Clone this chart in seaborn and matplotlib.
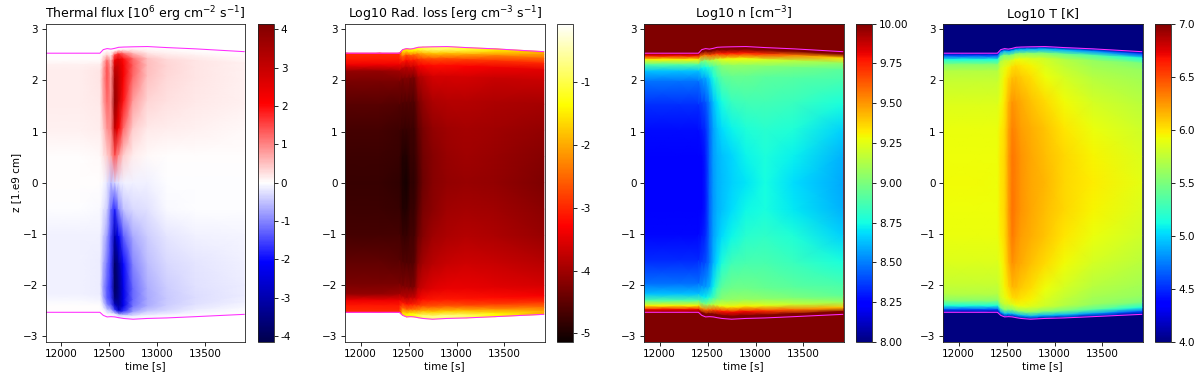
import numpy as np
import matplotlib
matplotlib.use("Agg")
import matplotlib.pyplot as plt
import seaborn as sns

time_nodes = [11840, 12200, 12405, 12440, 12480, 12520, 12560, 12600, 12650, 12750, 12900, 13100, 13400, 13910]
upper_edge = [2.53, 2.53, 2.53, 2.60, 2.62, 2.61, 2.625, 2.645, 2.65, 2.655, 2.66, 2.64, 2.615, 2.56]
lower_edge = [-2.53, -2.53, -2.53, -2.59, -2.62, -2.615, -2.62, -2.635, -2.65, -2.665, -2.65, -2.64, -2.615, -2.57]
loop_frac = [1, .98, .95, .91, .86, .78, .6, .4, .2, 0, -.2, -.4, -.6, -.78, -.86, -.91, -.95, -.98, -1]

flux = [
 [0,0,0,0,0,0,0,0,0,0,0,0,0,0],
 [0,0,0,0,.05,.05,.1,.1,.1,.1,.05,.05,.03,.02],
 [0,0,0,.2,.4,.2,1.5,1.7,1.2,.6,.2,.15,.1,.05],
 [.12,.12,.15,.5,1.2,.6,2.4,2.5,2.0,1.2,.5,.3,.2,.1],
 [.16,.16,.2,.7,1.4,.8,3.0,2.8,2.2,1.3,.55,.35,.22,.12],
 [.16,.16,.2,.8,1.4,.9,3.5,3.0,2.2,1.2,.5,.32,.2,.12],
 [.13,.13,.18,.7,1.2,1.0,3.8,3.0,1.9,.8,.35,.25,.17,.1],
 [.1,.1,.13,.4,.9,1.0,3.0,2.2,1.2,.4,.18,.15,.1,.06],
 [.03,.03,.05,.2,.4,.7,1.4,.9,.4,.15,.05,.03,.02,.02],
 [0,0,0,-.05,-.2,-.5,-.3,-.2,-.1,-.1,-.1,-.02,-.01,-.01],
 [-.03,-.03,-.04,-.2,-.4,-1.2,-1.8,-1.0,-.5,-.3,-.25,-.05,-.03,-.02],
 [-.1,-.1,-.12,-.4,-.8,-1.5,-3.0,-2.2,-1.3,-.7,-.4,-.2,-.1,-.07],
 [-.12,-.12,-.13,-.6,-1.1,-1.6,-3.8,-3.2,-2.0,-1.0,-.55,-.32,-.2,-.12],
 [-.12,-.12,-.15,-.8,-1.3,-1.7,-3.9,-3.4,-2.3,-1.2,-.65,-.4,-.25,-.15],
 [-.12,-.12,-.15,-.7,-1.3,-1.6,-3.6,-3.3,-2.3,-1.2,-.7,-.45,-.28,-.15],
 [-.05,-.05,-.08,-.4,-1.0,-1.4,-2.8,-3.2,-2.3,-1.1,-.65,-.42,-.25,-.1],
 [0,0,0,-.1,-.4,-.7,-1.6,-2.6,-1.6,-.7,-.4,-.3,-.15,-.05],
 [0,0,0,0,-.05,-.1,-.2,-.5,-.3,-.15,-.1,-.08,-.04,-.02],
 [0,0,0,0,0,0,0,0,0,0,0,0,0,0],
]

rad_loss = [
 [-3.0,-3.0,-3.0,-1.5,-1.5,-1.4,-1.2,-1.1,-1.0,-.9,-.9,-1.1,-1.5,-2.0],
 [-3.0,-3.0,-3.0,-1.7,-1.6,-1.5,-1.4,-1.2,-1.0,-.8,-.8,-1.1,-1.6,-2.1],
 [-3.1,-3.1,-3.1,-2.5,-2.7,-2.6,-2.5,-2.2,-2.0,-1.8,-1.8,-2.0,-2.3,-2.5],
 [-3.4,-3.4,-3.4,-3.1,-3.2,-3.1,-3.1,-2.9,-2.8,-2.7,-2.7,-2.8,-2.9,-3.0],
 [-4.1,-4.1,-4.0,-3.8,-3.8,-3.7,-3.7,-3.4,-3.3,-3.2,-3.2,-3.3,-3.4,-3.5],
 [-4.3,-4.3,-4.3,-4.3,-4.2,-4.3,-4.3,-3.9,-3.8,-3.6,-3.6,-3.6,-3.7,-3.7],
 [-4.55,-4.55,-4.6,-4.6,-4.6,-4.6,-4.6,-4.3,-4.1,-3.9,-3.85,-3.85,-3.9,-3.95],
 [-4.7,-4.7,-4.75,-4.8,-4.8,-4.75,-4.75,-4.5,-4.3,-4.1,-4.0,-3.95,-4.0,-4.1],
 [-4.75,-4.75,-4.8,-4.95,-4.95,-4.8,-4.8,-4.6,-4.35,-4.2,-4.05,-4.0,-4.05,-4.2],
 [-4.8,-4.8,-4.85,-5.0,-5.05,-4.85,-4.85,-4.65,-4.4,-4.2,-4.1,-4.05,-4.1,-4.25],
 [-4.75,-4.75,-4.8,-4.95,-4.95,-4.8,-4.8,-4.55,-4.3,-4.15,-4.0,-3.95,-4.0,-4.15],
 [-4.7,-4.7,-4.7,-4.8,-4.8,-4.7,-4.7,-4.4,-4.2,-4.0,-3.9,-3.85,-3.9,-4.05],
 [-4.5,-4.5,-4.55,-4.6,-4.6,-4.6,-4.55,-4.15,-3.95,-3.8,-3.7,-3.65,-3.7,-3.85],
 [-4.3,-4.3,-4.3,-4.3,-4.2,-4.3,-4.25,-3.8,-3.65,-3.5,-3.45,-3.45,-3.5,-3.6],
 [-4.1,-4.1,-4.0,-3.8,-3.8,-3.7,-3.7,-3.4,-3.2,-3.1,-3.1,-3.15,-3.2,-3.35],
 [-3.4,-3.4,-3.4,-3.1,-3.1,-3.1,-3.0,-2.9,-2.7,-2.6,-2.6,-2.7,-2.8,-2.9],
 [-3.1,-3.1,-3.1,-2.4,-2.4,-2.4,-2.3,-2.1,-1.8,-1.7,-1.7,-1.8,-2.1,-2.4],
 [-3.0,-3.0,-3.0,-1.7,-1.5,-1.4,-1.3,-1.1,-.8,-.7,-.7,-.9,-1.4,-2.0],
 [-3.0,-3.0,-3.0,-1.6,-1.4,-1.3,-1.2,-1.0,-.8,-.7,-.7,-.8,-1.3,-2.0],
]

density = [
 [10.3,10.3,10.3,10.3,10.3,10.3,10.3,10.3,10.3,10.3,10.3,10.3,10.3,10.3],
 [9.8,9.8,9.8,10.1,10.2,10.2,10.2,10.3,10.3,10.3,10.3,10.3,10.3,10.0],
 [9.3,9.3,9.3,9.55,9.6,9.6,9.65,9.7,9.75,9.75,9.75,9.7,9.55,9.35],
 [8.9,8.9,8.9,9.0,9.05,9.1,9.15,9.2,9.25,9.28,9.28,9.22,9.15,9.05],
 [8.63,8.63,8.63,8.72,8.75,8.8,8.88,8.96,9.02,9.05,9.05,9.02,8.98,8.92],
 [8.47,8.47,8.47,8.55,8.58,8.65,8.76,8.85,8.92,8.95,8.95,8.92,8.9,8.87],
 [8.34,8.34,8.34,8.38,8.42,8.5,8.62,8.7,8.76,8.84,8.86,8.86,8.84,8.76],
 [8.27,8.27,8.27,8.3,8.34,8.46,8.57,8.63,8.68,8.73,8.78,8.8,8.78,8.66],
 [8.23,8.23,8.23,8.25,8.31,8.45,8.56,8.6,8.63,8.67,8.73,8.77,8.72,8.6],
 [8.22,8.22,8.22,8.24,8.3,8.45,8.55,8.6,8.62,8.66,8.7,8.75,8.68,8.58],
 [8.22,8.22,8.22,8.24,8.3,8.45,8.55,8.6,8.63,8.68,8.74,8.76,8.71,8.6],
 [8.26,8.26,8.26,8.29,8.33,8.46,8.57,8.62,8.68,8.74,8.8,8.82,8.78,8.66],
 [8.33,8.33,8.33,8.37,8.4,8.48,8.6,8.68,8.78,8.86,8.88,8.88,8.84,8.76],
 [8.47,8.47,8.47,8.53,8.56,8.6,8.72,8.84,8.93,8.97,8.97,8.95,8.92,8.88],
 [8.63,8.63,8.63,8.7,8.73,8.78,8.86,8.96,9.03,9.06,9.06,9.04,9.0,8.93],
 [8.9,8.9,8.9,9.0,9.05,9.1,9.15,9.22,9.27,9.3,9.3,9.25,9.18,9.08],
 [9.3,9.3,9.3,9.5,9.6,9.6,9.65,9.72,9.78,9.8,9.8,9.72,9.6,9.4],
 [9.8,9.8,9.8,10.1,10.2,10.2,10.2,10.3,10.3,10.3,10.3,10.3,10.3,10.1],
 [10.3,10.3,10.3,10.3,10.3,10.3,10.3,10.3,10.3,10.3,10.3,10.3,10.3,10.3],
]

temperature = [
 [4.1,4.1,4.1,4.1,4.1,4.1,4.1,4.1,4.1,4.1,4.1,4.1,4.1,4.1],
 [4.6,4.6,4.6,4.8,4.9,4.9,4.9,4.9,4.9,4.9,4.9,4.9,4.8,4.6],
 [5.15,5.15,5.15,5.4,5.5,5.5,5.5,5.55,5.55,5.55,5.5,5.45,5.35,5.15],
 [5.55,5.55,5.55,5.7,5.75,5.8,5.85,5.9,5.9,5.85,5.8,5.7,5.6,5.5],
 [5.7,5.7,5.7,5.82,5.88,5.95,6.02,6.03,6.0,5.95,5.85,5.75,5.65,5.6],
 [5.78,5.78,5.78,5.85,5.95,6.05,6.12,6.12,6.08,6.02,5.92,5.82,5.72,5.65],
 [5.86,5.86,5.86,5.92,6.0,6.15,6.25,6.22,6.18,6.12,6.03,5.93,5.82,5.73],
 [5.9,5.9,5.9,5.97,6.03,6.2,6.32,6.28,6.22,6.17,6.1,6.0,5.9,5.8],
 [5.92,5.92,5.92,6.0,6.05,6.22,6.35,6.31,6.25,6.2,6.13,6.04,5.95,5.85],
 [5.93,5.93,5.92,6.0,6.05,6.22,6.35,6.32,6.25,6.2,6.15,6.05,5.97,5.88],
 [5.92,5.92,5.92,6.0,6.05,6.22,6.36,6.32,6.25,6.2,6.13,6.04,5.95,5.85],
 [5.9,5.9,5.9,5.97,6.03,6.2,6.34,6.28,6.22,6.17,6.1,6.0,5.9,5.8],
 [5.86,5.86,5.86,5.92,6.0,6.15,6.27,6.22,6.18,6.12,6.03,5.93,5.82,5.73],
 [5.78,5.78,5.78,5.85,5.95,6.05,6.14,6.13,6.08,6.02,5.92,5.82,5.72,5.65],
 [5.7,5.7,5.7,5.82,5.88,5.95,6.02,6.03,6.0,5.95,5.85,5.75,5.65,5.6],
 [5.55,5.55,5.55,5.7,5.75,5.8,5.85,5.9,5.9,5.85,5.8,5.7,5.6,5.5],
 [5.15,5.15,5.15,5.4,5.5,5.5,5.5,5.55,5.55,5.55,5.5,5.45,5.35,5.15],
 [4.6,4.6,4.6,4.8,4.9,4.9,4.9,4.9,4.9,4.9,4.9,4.9,4.8,4.6],
 [4.1,4.1,4.1,4.1,4.1,4.1,4.1,4.1,4.1,4.1,4.1,4.1,4.1,4.1],
]

titles = [r"Thermal flux [$10^6$ erg cm$^{-2}$ s$^{-1}$]",
          r"Log10 Rad. loss [erg cm$^{-3}$ s$^{-1}$]",
          r"Log10 n [cm$^{-3}$]",
          "Log10 T [K]"]
tables = [flux, rad_loss, density, temperature]
cmaps = ["seismic", "hot", "jet", "jet"]
limits = [(-4.15, 4.15), (-5.14, -0.06), (8, 10), (4, 7)]
outside = ["white", "white", "#800000", "#000080"]
cbar_ticks = [list(range(-4, 5)), [-5, -4, -3, -2, -1],
              [8, 8.25, 8.5, 8.75, 9, 9.25, 9.5, 9.75, 10],
              [4, 4.5, 5, 5.5, 6, 6.5, 7]]
cbar_fmt = ["%d", "%d", "%.2f", "%.1f"]
x_ticks = [12000, 12500, 13000, 13500]
z_ticks = [-3, -2, -1, 0, 1, 2, 3]

sns.set_style("ticks", {"text.color": "black", "axes.labelcolor": "black",
                        "xtick.color": "black", "ytick.color": "black",
                        "axes.edgecolor": "#222222", "xtick.direction": "out",
                        "ytick.direction": "out"})
plt.rcParams["font.family"] = ["DejaVu Sans"]
plt.rcParams["mathtext.fontset"] = "dejavusans"

W, H = 1200, 382
fig = plt.figure(figsize=(16, H / 75), dpi=75)
ax_left = [45.5, 345, 644, 943]
ax_w = 199.5
cb_off = 212
cb_w = 16
y_top, y_bot = 23.5, 342

t = np.array(time_nodes, float)
up = np.array(upper_edge)
lo = np.array(lower_edge)
frac = np.array(loop_frac, float)
Y = np.array([[f * (u if f >= 0 else -l) for u, l in zip(up, lo)] for f in frac])
X = np.tile(t, (len(frac), 1))

for i in range(4):
    ax = fig.add_axes([ax_left[i] / W, 1 - y_bot / H, ax_w / W, (y_bot - y_top) / H])
    ax.set_facecolor(outside[i])
    m = ax.pcolormesh(X, Y, np.array(tables[i]), cmap=cmaps[i], vmin=limits[i][0],
                      vmax=limits[i][1], shading="gouraud", rasterized=True)
    sns.lineplot(x=time_nodes, y=upper_edge, ax=ax, color="#ff2bff", lw=1.0, sort=False)
    sns.lineplot(x=time_nodes, y=lower_edge, ax=ax, color="#ff2bff", lw=1.0, sort=False)
    ax.set_xlim(11838, 13917)
    ax.set_ylim(-3.11, 3.11)
    ax.set_xticks(x_ticks)
    ax.set_yticks(z_ticks)
    ax.set_title(titles[i], fontsize=12, pad=5)
    ax.set_xlabel("time [s]", fontsize=10, labelpad=2)
    if i == 0:
        ax.set_ylabel("z [1.e9 cm]", fontsize=10, labelpad=2)
    cax = fig.add_axes([(ax_left[i] + cb_off) / W, 1 - y_bot / H, cb_w / W, (y_bot - y_top) / H])
    cb = fig.colorbar(m, cax=cax, ticks=cbar_ticks[i], format=cbar_fmt[i])
    cb.ax.tick_params(labelsize=10)

fig.savefig("out.png", dpi=75)
